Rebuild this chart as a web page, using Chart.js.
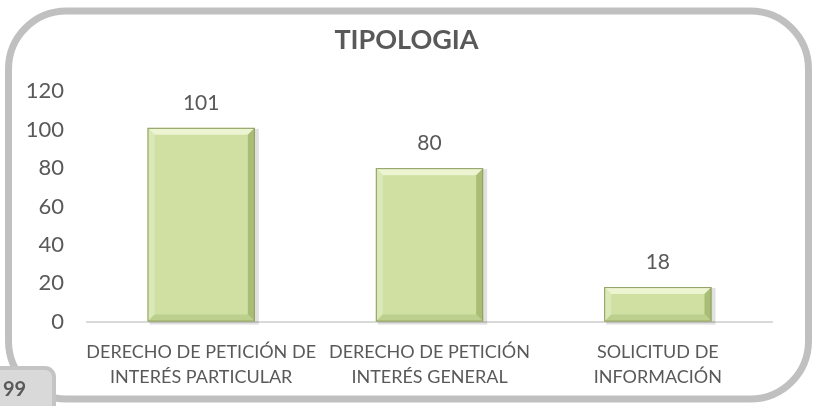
<!DOCTYPE html>
<html>
<head>
<meta charset="utf-8">
<script src="https://cdn.jsdelivr.net/npm/chart.js@4"></script>
<style>
  body { margin: 0; background: #fff; }
  #wrap { width: 813px; height: 406px; position: relative; }
</style>
</head>
<body>
<div id="wrap"><canvas id="tipoChart"></canvas></div>
<script>
const categories = [
    ['DERECHO DE PETICIÓN DE', 'INTERÉS PARTICULAR'],
    ['DERECHO DE PETICIÓN', 'INTERÉS GENERAL'],
    ['SOLICITUD DE', 'INFORMACIÓN']
];
const values = [101, 80, 18];
const yTicks = [0, 20, 40, 60, 80, 100, 120];
const chartTitle = 'TIPOLOGIA';
const pageNumber = '99';

const textColor = '#595959';
const fontFamily = 'Lato, "Open Sans", sans-serif';

// rounded frame + page tab behind the chart
const framePlugin = {
    id: 'frame',
    beforeDraw(chart) {
        const ctx = chart.ctx;
        ctx.save();
        ctx.fillStyle = '#fff';
        ctx.fillRect(0, 0, chart.width, chart.height);
        ctx.strokeStyle = '#c0c0c0';
        ctx.lineWidth = 7;
        ctx.beginPath();
        ctx.roundRect(8.5, 11, 800, 388, 58);
        ctx.stroke();

        // tab with page number
        ctx.fillStyle = '#d9d9d9';
        ctx.strokeStyle = '#c4c4c4';
        ctx.lineWidth = 4;
        ctx.beginPath();
        ctx.roundRect(-10, 368, 64, 50, [0, 9, 0, 0]);
        ctx.fill();
        ctx.stroke();
        ctx.fillStyle = textColor;
        ctx.font = 'bold 20px ' + fontFamily;
        ctx.textAlign = 'left';
        ctx.textBaseline = 'middle';
        ctx.fillText(pageNumber, 3, 390);
        ctx.restore();
    }
};

// bevel look on the bars, plus value labels
const bevelPlugin = {
    id: 'bevel',
    beforeDatasetsDraw(chart) {
        const ctx = chart.ctx;
        ctx.save();
        chart.getDatasetMeta(0).data.forEach(bar => {
            const left = bar.x - bar.width / 2;
            ctx.fillStyle = 'rgba(0,0,0,0.12)';
            ctx.fillRect(left + 2, bar.y + 1, bar.width + 2, bar.base - bar.y + 2);
        });
        ctx.restore();
    },
    afterDatasetsDraw(chart) {
        const ctx = chart.ctx;
        const b = 7;
        ctx.save();
        chart.getDatasetMeta(0).data.forEach((bar, i) => {
            const l = bar.x - bar.width / 2;
            const r = bar.x + bar.width / 2;
            const t = bar.y;
            const bt = bar.base;
            const bb = Math.min(b, (bt - t) / 2);

            const quad = (pts, color) => {
                ctx.fillStyle = color;
                ctx.beginPath();
                ctx.moveTo(pts[0][0], pts[0][1]);
                for (let k = 1; k < pts.length; k++) ctx.lineTo(pts[k][0], pts[k][1]);
                ctx.closePath();
                ctx.fill();
            };
            quad([[l, t], [r, t], [r - bb, t + bb], [l + bb, t + bb]], '#ecf4d2');
            quad([[l, t], [l + bb, t + bb], [l + bb, bt - bb], [l, bt]], '#dbe9b8');
            quad([[r, t], [r, bt], [r - bb, bt - bb], [r - bb, t + bb]], '#aabd77');
            quad([[l, bt], [l + bb, bt - bb], [r - bb, bt - bb], [r, bt]], '#bccf8c');

            ctx.strokeStyle = '#8f9e63';
            ctx.lineWidth = 1;
            ctx.strokeRect(l + 0.5, t + 0.5, bar.width - 1, bt - t - 1);

            ctx.fillStyle = textColor;
            ctx.font = '21px ' + fontFamily;
            ctx.textAlign = 'center';
            ctx.textBaseline = 'middle';
            ctx.fillText(values[i], bar.x, t - 25);
        });
        ctx.restore();
    }
};

const ctx = document.getElementById('tipoChart').getContext('2d');
const tipoChart = new Chart(ctx, {
    type: 'bar',
    data: {
        labels: categories,
        datasets: [
            {
                label: 'Tipologia',
                data: values,
                backgroundColor: '#cfe0a2',
                borderWidth: 0,
                barPercentage: 0.47,
                categoryPercentage: 1
            }
        ]
    },
    options: {
        responsive: true,
        maintainAspectRatio: false,
        animation: false,
        layout: {
            padding: { top: 0, left: 0, right: 0, bottom: -2 }
        },
        plugins: {
            legend: { display: false },
            tooltip: { enabled: false },
            title: {
                display: true,
                text: chartTitle,
                color: textColor,
                font: { family: fontFamily, size: 27, weight: 'bold' },
                padding: { top: 24, bottom: 35 }
            }
        },
        scales: {
            x: {
                grid: { display: false, drawTicks: false },
                border: { display: true, color: '#d9d9d9', width: 2 },
                ticks: {
                    color: textColor,
                    font: { family: fontFamily, size: 18, lineHeight: 1.4 },
                    padding: 18,
                    maxRotation: 0,
                    autoSkip: false
                }
            },
            y: {
                min: 0,
                max: 120,
                afterBuildTicks(scale) {
                    scale.ticks = yTicks.map(v => ({ value: v }));
                },
                afterFit(scale) {
                    scale.width = 87;
                },
                grid: { display: false, drawTicks: false },
                border: { display: false },
                ticks: {
                    color: textColor,
                    font: { family: fontFamily, size: 22 },
                    padding: 23
                }
            },
            // empty right-hand spacer so the plot ends where the reference does
            spacer: {
                type: 'linear',
                position: 'right',
                afterFit(scale) {
                    scale.width = 41;
                },
                grid: { display: false, drawTicks: false },
                border: { display: false },
                ticks: { display: false }
            }
        }
    },
    plugins: [framePlugin, bevelPlugin]
});
</script>
</body>
</html>
